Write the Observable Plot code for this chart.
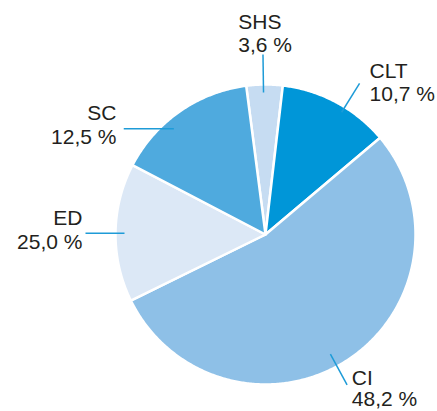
<!DOCTYPE html>
<html>
<head>
<meta charset="utf-8">
<script src="https://cdn.jsdelivr.net/npm/d3@7"></script>
<script src="https://cdn.jsdelivr.net/npm/@observablehq/plot@0.6"></script>
<style>
  html, body { margin: 0; padding: 0; background: #fff; }
  #chart svg { display: block; }
</style>
</head>
<body>
<div id="chart"></div>
<script>
// ---- data ----
const categories = ["SHS", "CLT", "CI", "ED", "SC"];
// printed shares (labels)
const shareLabels = [3.6, 10.7, 48.2, 25.0, 12.5];
// slice sizes as drawn in the picture (percent of the full circle)
const drawnShares = [3.9, 12.0, 53.9, 14.9, 15.3];
const colors = ["#c6dcf2", "#0096d8", "#8ec0e7", "#dce8f6", "#4faade"];

// ---- layout ----
const W = 437, H = 411;
const CX = 265, CY = 234, R = 150;      // pie centre (px) and radius
const startAngle = -7.4;                // degrees clockwise from north
// leader lines: angle (deg), inner radius, outer radius; text offset from outer end (px, y down)
const leaders = [
  {a1: -0.8,  r1: 142, a2: -0.8,  r2: 180, tx: -24.7, ty: -2.3, anchor: "start", lh: 1.11},
  {a1: 31.9,  r1: 144, a2: 31.9,  r2: 178, tx: 10,    ty: 17.7, anchor: "start", lh: 1.11},
  {a1: 151.5, r1: 136, a2: 151.5, r2: 171, tx: 4.7,   ty: 21.3, anchor: "start", lh: 1.0},
  {a1: 270.5, r1: 141, a2: 270.4, r2: 180, tx: -3,    ty: 15.3, anchor: "end", lh: 1.11},
  {a1: 319.1, r1: 140, a2: 306.7, r2: 176.8, tx: -7.3, ty: 14.7, anchor: "end", lh: 1.11}
];

const rad = d => d * Math.PI / 180;
const px = (a, r) => r * Math.sin(rad(a));
const py = (a, r) => r * Math.cos(rad(a));

// slice polygons
const total = d3.sum(drawnShares);
let acc = startAngle;
const slices = categories.map((c, i) => {
  const a0 = acc, a1 = acc + drawnShares[i] / total * 360;
  acc = a1;
  const n = Math.max(2, Math.ceil((a1 - a0) / 0.5));
  const pts = [{x: 0, y: 0}];
  for (let k = 0; k <= n; k++) {
    const a = a0 + (a1 - a0) * k / n;
    pts.push({x: px(a, R), y: py(a, R)});
  }
  pts.push({x: 0, y: 0});
  return pts;
});

const fmt = v => v.toFixed(1).replace(".", ",") + " %";
const links = leaders.map((l, i) => ({
  x1: px(l.a1, l.r1), y1: py(l.a1, l.r1),
  x2: px(l.a2, l.r2), y2: py(l.a2, l.r2)
}));
const labels = leaders.map((l, i) => ({
  x: links[i].x2 + l.tx,
  y: links[i].y2 - l.ty,
  text: categories[i] + "\n" + fmt(shareLabels[i]),
  anchor: l.anchor,
  lh: l.lh
}));

const font = "'Liberation Sans', Arial, Helvetica, sans-serif";
const marks = slices.map((pts, i) =>
  Plot.line(pts, {x: "x", y: "y", fill: colors[i], stroke: "#fff", strokeWidth: 2.5,
                  strokeLinejoin: "round", curve: "linear"})
);
marks.push(Plot.link(links, {x1: "x1", y1: "y1", x2: "x2", y2: "y2", stroke: "#1e9bd7", strokeWidth: 1.5}));
labels.forEach(d => {
  marks.push(Plot.text([d], {
    x: "x", y: "y", text: "text", textAnchor: d.anchor, lineAnchor: "bottom",
    lineHeight: d.lh, fontSize: 21, fill: "#231f20", fontFamily: font
  }));
});

const chart = Plot.plot({
  width: W, height: H,
  margin: 0,
  x: {domain: [-CX, W - CX], range: [0, W], axis: null},
  y: {domain: [-(H - CY), CY], range: [H, 0], axis: null},
  style: {fontFamily: font, background: "#fff", overflow: "visible"},
  marks
});
document.getElementById("chart").appendChild(chart);
</script>
</body>
</html>
